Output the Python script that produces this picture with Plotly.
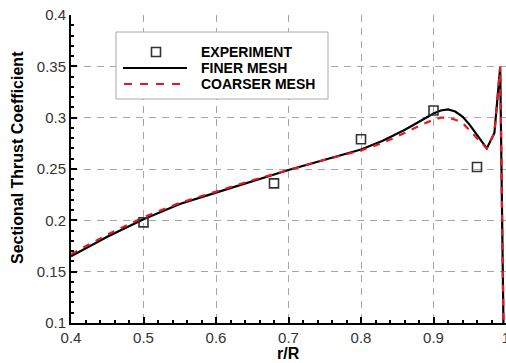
import plotly.graph_objects as go

# ---- data ----
r_exp = [0.50, 0.68, 0.80, 0.90, 0.96]
ct_exp = [0.198, 0.236, 0.279, 0.307, 0.252]

r_fine = [0.40, 0.45, 0.50, 0.55, 0.60, 0.65, 0.70, 0.75, 0.80, 0.83, 0.86, 0.88,
          0.90, 0.91, 0.92, 0.93, 0.94, 0.95, 0.96, 0.9735, 0.984, 0.992, 0.9965]
ct_fine = [0.165, 0.184, 0.201, 0.216, 0.227, 0.238, 0.249, 0.259, 0.269, 0.2775, 0.288, 0.296,
           0.304, 0.307, 0.308, 0.306, 0.301, 0.293, 0.283, 0.270, 0.285, 0.349, 0.100]

r_coarse = [0.40, 0.45, 0.50, 0.55, 0.60, 0.65, 0.70, 0.75, 0.80, 0.83, 0.86, 0.88,
            0.90, 0.91, 0.92, 0.93, 0.94, 0.95, 0.96, 0.9735, 0.984, 0.992, 0.9965]
ct_coarse = [0.167, 0.186, 0.203, 0.217, 0.228, 0.239, 0.249, 0.259, 0.268, 0.2755, 0.285, 0.292,
             0.298, 0.300, 0.300, 0.298, 0.295, 0.288, 0.280, 0.270, 0.285, 0.350, 0.100]

legend_labels = ["EXPERIMENT", "FINER MESH", "COARSER MESH"]
x_title = "r/R"
y_title = "Sectional Thrust Coefficient"

FONT = "Liberation Sans, Arial, Helvetica, sans-serif"

fig = go.Figure()
fig.add_trace(go.Scatter(x=r_fine, y=ct_fine, mode="lines",
                         line=dict(color="black", width=2.2), name=legend_labels[1],
                         showlegend=False))
fig.add_trace(go.Scatter(x=r_coarse, y=ct_coarse, mode="lines",
                         line=dict(color="#e41a23", width=2.2, dash="7px,7px"),
                         name=legend_labels[2], showlegend=False))
fig.add_trace(go.Scatter(x=r_exp, y=ct_exp, mode="markers",
                         marker=dict(symbol="square-open", size=9, color="#333",
                                     line=dict(width=1.6, color="#333")),
                         name=legend_labels[0], showlegend=False))

W, H = 506, 363
L, R_, T, B = 71, 0, 15, 40
pw, ph = W - L - R_, H - T - B

def px(xp):
    return (xp - L) / pw

def py(yp):
    return (H - B - yp) / ph

shapes = []
# legend box
shapes.append(dict(type="rect", xref="paper", yref="paper",
                   x0=px(116), x1=px(328), y0=py(99), y1=py(32),
                   line=dict(color="#a8a8a8", width=1), fillcolor="white", layer="above"))
# experiment square
shapes.append(dict(type="rect", xref="paper", yref="paper",
                   x0=px(151.5), x1=px(160.5), y0=py(56.5), y1=py(47.5),
                   line=dict(color="#333", width=1.6), layer="above"))
# finer line
shapes.append(dict(type="line", xref="paper", yref="paper",
                   x0=px(123), x1=px(187), y0=py(68), y1=py(68),
                   line=dict(color="black", width=2.2), layer="above"))
# coarser line
shapes.append(dict(type="line", xref="paper", yref="paper",
                   x0=px(124), x1=px(187), y0=py(84), y1=py(84),
                   line=dict(color="#e41a23", width=2.2, dash="8px,8px"), layer="above"))

annotations = []
for lab, yy in zip(legend_labels, [52, 68, 84]):
    annotations.append(dict(text="<b>%s</b>" % lab, xref="paper", yref="paper",
                            x=px(199), y=py(yy), xanchor="left", yanchor="middle",
                            showarrow=False, font=dict(family=FONT, size=14, color="black")))
annotations.append(dict(text="<b>%s</b>" % x_title, xref="paper", yref="paper",
                        x=px(288), y=py(353), xanchor="center", yanchor="middle",
                        showarrow=False, font=dict(family=FONT, size=16, color="black")))
annotations.append(dict(text="<b>%s</b>" % y_title, xref="paper", yref="paper",
                        x=px(17), y=py(158), xanchor="center", yanchor="middle", textangle=-90,
                        showarrow=False, font=dict(family=FONT, size=16, color="black")))

axis_common = dict(
    showline=True, linecolor="black", linewidth=2,
    ticks="inside", ticklen=6, tickwidth=1.5, tickcolor="black",
    showgrid=True, gridcolor="#a6a6a6", gridwidth=1, griddash="7px,6px",
    zeroline=False,
    tickfont=dict(family=FONT, size=15, color="#333"),
)

fig.update_layout(
    width=W, height=H,
    margin=dict(l=L, r=R_, t=T, b=B, autoexpand=False),
    paper_bgcolor="white", plot_bgcolor="white",
    showlegend=False,
    xaxis=dict(range=[0.4, 1.0], dtick=0.1, tick0=0.4, ticklabeloverflow="allow",
               minor=dict(ticks="inside", ticklen=3, dtick=0.02, tickcolor="black", showgrid=False),
               **axis_common),
    yaxis=dict(range=[0.1, 0.4], dtick=0.05, tick0=0.1,
               minor=dict(ticks="inside", ticklen=3, dtick=0.01, tickcolor="black", showgrid=False),
               **axis_common),
    shapes=shapes,
    annotations=annotations,
)

fig.write_html("out.html", config={"displayModeBar": False})
